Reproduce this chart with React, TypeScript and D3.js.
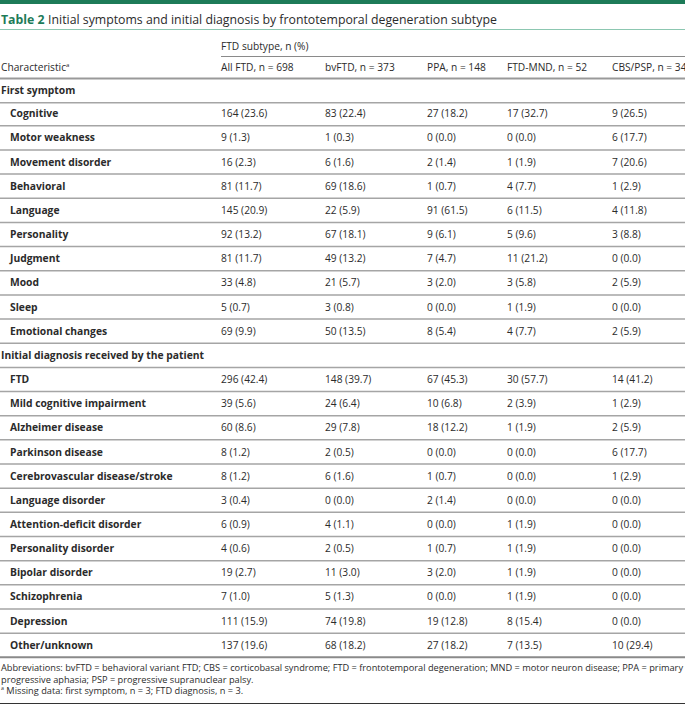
import React, { useLayoutEffect, useRef, useState } from "react";
import * as d3 from "d3";

const title = "Initial symptoms and initial diagnosis by frontotemporal degeneration subtype";
const tableLabel = "Table 2";
const groupHeader = "FTD subtype, n (%)";
const columns = ["All FTD, n = 698", "bvFTD, n = 373", "PPA, n = 148", "FTD-MND, n = 52", "CBS/PSP, n = 34"];

const section1 = "First symptom";
const symptomLabels = ["Cognitive", "Motor weakness", "Movement disorder", "Behavioral", "Language", "Personality", "Judgment", "Mood", "Sleep", "Emotional changes"];
const symptomValues = [
  ["164 (23.6)", "83 (22.4)", "27 (18.2)", "17 (32.7)", "9 (26.5)"],
  ["9 (1.3)", "1 (0.3)", "0 (0.0)", "0 (0.0)", "6 (17.7)"],
  ["16 (2.3)", "6 (1.6)", "2 (1.4)", "1 (1.9)", "7 (20.6)"],
  ["81 (11.7)", "69 (18.6)", "1 (0.7)", "4 (7.7)", "1 (2.9)"],
  ["145 (20.9)", "22 (5.9)", "91 (61.5)", "6 (11.5)", "4 (11.8)"],
  ["92 (13.2)", "67 (18.1)", "9 (6.1)", "5 (9.6)", "3 (8.8)"],
  ["81 (11.7)", "49 (13.2)", "7 (4.7)", "11 (21.2)", "0 (0.0)"],
  ["33 (4.8)", "21 (5.7)", "3 (2.0)", "3 (5.8)", "2 (5.9)"],
  ["5 (0.7)", "3 (0.8)", "0 (0.0)", "1 (1.9)", "0 (0.0)"],
  ["69 (9.9)", "50 (13.5)", "8 (5.4)", "4 (7.7)", "2 (5.9)"],
];

const section2 = "Initial diagnosis received by the patient";
const diagnosisLabels = ["FTD", "Mild cognitive impairment", "Alzheimer disease", "Parkinson disease", "Cerebrovascular disease/stroke", "Language disorder", "Attention-deficit disorder", "Personality disorder", "Bipolar disorder", "Schizophrenia", "Depression", "Other/unknown"];
const diagnosisValues = [
  ["296 (42.4)", "148 (39.7)", "67 (45.3)", "30 (57.7)", "14 (41.2)"],
  ["39 (5.6)", "24 (6.4)", "10 (6.8)", "2 (3.9)", "1 (2.9)"],
  ["60 (8.6)", "29 (7.8)", "18 (12.2)", "1 (1.9)", "2 (5.9)"],
  ["8 (1.2)", "2 (0.5)", "0 (0.0)", "0 (0.0)", "6 (17.7)"],
  ["8 (1.2)", "6 (1.6)", "1 (0.7)", "0 (0.0)", "1 (2.9)"],
  ["3 (0.4)", "0 (0.0)", "2 (1.4)", "0 (0.0)", "0 (0.0)"],
  ["6 (0.9)", "4 (1.1)", "0 (0.0)", "1 (1.9)", "0 (0.0)"],
  ["4 (0.6)", "2 (0.5)", "1 (0.7)", "1 (1.9)", "0 (0.0)"],
  ["19 (2.7)", "11 (3.0)", "3 (2.0)", "1 (1.9)", "0 (0.0)"],
  ["7 (1.0)", "5 (1.3)", "0 (0.0)", "1 (1.9)", "0 (0.0)"],
  ["111 (15.9)", "74 (19.8)", "19 (12.8)", "8 (15.4)", "0 (0.0)"],
  ["137 (19.6)", "68 (18.2)", "27 (18.2)", "7 (13.5)", "10 (29.4)"],
];

const footnotes = [
  "Abbreviations: bvFTD = behavioral variant FTD; CBS = corticobasal syndrome; FTD = frontotemporal degeneration; MND = motor neuron disease; PPA = primary",
  "progressive aphasia; PSP = progressive supranuclear palsy.",
];
const footnoteMark = "a";
const footnoteA = " Missing data: first symptom, n = 3; FTD diagnosis, n = 3.";

const W = 685;
const H = 706;
const FONT = "'Open Sans', 'Noto Sans', sans-serif";
const TEXT = "#2b2b2b";
const GREEN = "#1d7b58";

type Row = { kind: "section" | "item"; label: string; values?: string[] };

export default function App() {
  const rows: Row[] = [
    { kind: "section", label: section1 },
    ...symptomLabels.map((l, i) => ({ kind: "item" as const, label: l, values: symptomValues[i] })),
    { kind: "section", label: section2 },
    ...diagnosisLabels.map((l, i) => ({ kind: "item" as const, label: l, values: diagnosisValues[i] })),
  ];

  const colScale = d3.scaleOrdinal<string, number>().domain(columns).range([221, 325, 427, 507, 612]);
  const rowY = d3.scaleLinear().domain([1, rows.length - 1]).range([113.5, 645]);
  const centers = rows.map((_, i) => (i === 0 ? 90.5 : rowY(i)));

  const fnRef = useRef<SVGTextElement>(null);
  const [fnScale, setFnScale] = useState(1);
  useLayoutEffect(() => {
    const t = fnRef.current;
    if (t) {
      const w = t.getComputedTextLength();
      if (w > 0) setFnScale(683 / w);
    }
  }, []);

  return (
    <svg width={W} height={H} style={{ position: "absolute", left: 0, top: 0, background: "#fff" }} fontFamily={FONT}>
      <rect x={0} y={0} width={W} height={4} fill={GREEN} />
      <text x={1} y={23.5} fontSize={12.3} fill={TEXT}>
        <tspan fontWeight={700} fill={GREEN}>{tableLabel}</tspan>
        <tspan dx={3.5}>{title}</tspan>
      </text>
      <line x1={0} x2={W} y1={29.5} y2={29.5} stroke="#8cc7b1" strokeWidth={1} />

      <text x={colScale(columns[0])} y={49.5} fontSize={10.2} fill={TEXT}>{groupHeader}</text>
      <line x1={colScale(columns[0])} x2={W} y1={56.5} y2={56.5} stroke="#8a8a8a" strokeWidth={1} />
      <text x={1} y={71} fontSize={10.2} fill={TEXT}>
        Characteristic<tspan fontSize={6} dy={-4}>a</tspan>
      </text>
      {columns.map((c) => (
        <text key={c} x={colScale(c)} y={71} fontSize={10.2} fill={TEXT}>{c}</text>
      ))}
      <line x1={0} x2={W} y1={78.5} y2={78.5} stroke="#999" strokeWidth={2} />

      {rows.map((r, i) => {
        const cy = centers[i];
        const lineY = cy + 12.3;
        const last = i === rows.length - 1;
        return (
          <g key={r.label + i}>
            <text x={r.kind === "section" ? 1 : 10} y={cy + 3.8} fontSize={10.3} fontWeight={700} fill={TEXT}>{r.label}</text>
            {r.values && r.values.map((v, j) => (
              <text key={j} x={colScale(columns[j])} y={cy + 3.8} fontSize={10.2} fill={TEXT}>{v}</text>
            ))}
            <line x1={0} x2={W} y1={lineY} y2={lineY} stroke={last ? "#8a8a8a" : "#a5a5a5"} strokeWidth={last ? 2 : 1.5} />
          </g>
        );
      })}

      <g transform={`translate(1,0) scale(${fnScale},1)`} fontSize={8.6} fill={TEXT}>
        <text ref={fnRef} x={0} y={671.5}>{footnotes[0]}</text>
        <text x={0} y={683}>{footnotes[1]}</text>
        <text x={0} y={694.5}>
          <tspan fontSize={5} dy={-4}>{footnoteMark}</tspan>
          <tspan dy={4}>{footnoteA}</tspan>
        </text>
      </g>
      <line x1={0} x2={W} y1={703.5} y2={703.5} stroke="#333" strokeWidth={1} />
    </svg>
  );
}
